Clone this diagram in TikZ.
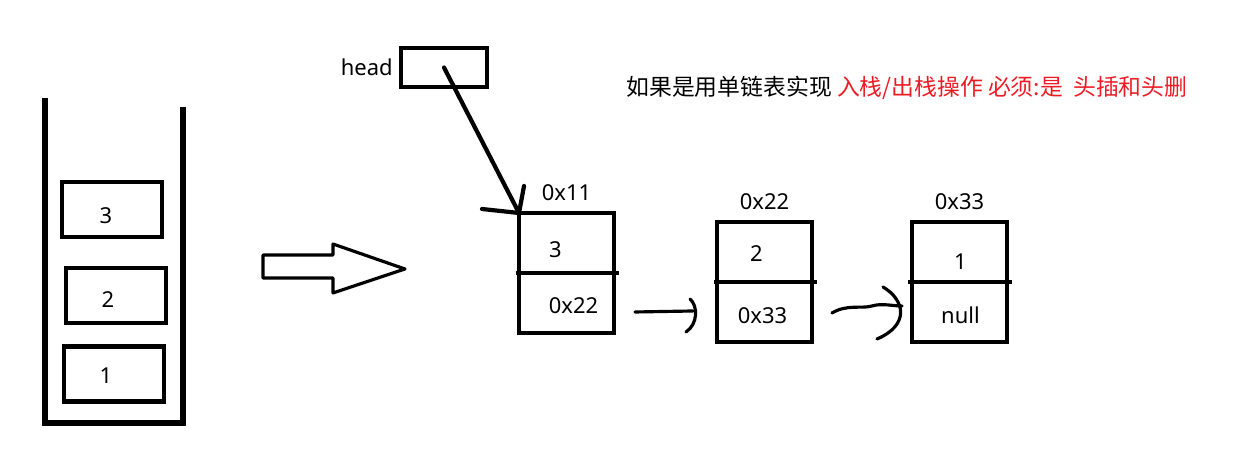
\documentclass[tikz,border=0pt]{standalone}
\usepackage{fontspec}
\setmainfont{Noto Sans}
\newfontfamily\cjkfont{Noto Sans CJK SC}
\usepackage{tikz}
\usetikzlibrary{positioning,calc}
\definecolor{notered}{HTML}{ED1C24}

\begin{document}
\begin{tikzpicture}[
    x=0.02cm, y=-0.02cm,
    font=\fontsize{12.5}{15}\selectfont,
    item/.style={draw,line width=2.4pt,minimum width=2cm,minimum height=1.1cm,inner sep=0pt},
    cell/.style={draw,line width=2.4pt,minimum width=1.9cm,minimum height=1.2cm,inner sep=0pt,outer sep=0pt},
    val/.style args={#1 at #2}{label={[shift={(#2)}]center:#1}},
    addr/.style={inner sep=1pt},
    wall/.style={line width=3pt},
    hand/.style={line width=1.8pt,line cap=round,line join=round}
]
\useasboundingbox (0,0) rectangle (1243,455);

% stack, open at the top
\draw[wall] (45,98) -- (45,423) -- (183,423) -- (183,107);
\node[item,val={3 at -6,6}] (s3) at (112,209.5) {};
\node[item,val={2 at -8,4}] (s2) at (116,295.5) {};
\node[item,val={1 at -8,2}] (s1) at (114,374) {};

% hollow arrow between the two pictures
\draw[line width=1.8pt,line join=round] (263,255) -- (333,255) -- (333,244) -- (405,269)
    -- (333,293) -- (333,278) -- (263,278) -- cycle;

% head pointer
\node[draw,line width=2.4pt,minimum width=1.72cm,minimum height=0.78cm] (hbox) at (444,67.5) {};
\node[left=0pt of hbox] (hlab) {head};

% list cells: data on top, next below
\node[cell,val={3 at -11,7}] (c11a) at (566.5,243) {};
\node[cell,below=0pt of c11a,val={0x22 at 7,3}] (c11b) {};
\node[cell,val={2 at -8,2}] (c22a) at (764.5,252) {};
\node[cell,below=0pt of c22a,val={0x33 at -2,4}] (c22b) {};
\node[cell,right=2cm of c22a,val={1 at 1,10}] (c33a) {};
\node[cell,below=0pt of c33a,val={null at 1,3}] (c33b) {};

% dividers stick out a little
\foreach \c in {c11,c22,c33}
  \draw[line width=2.4pt] ([xshift=-2pt]\c a.south west) -- ([xshift=3pt]\c a.south east);

% addresses above the cells
\node[addr,above=0.2cm of c11a] (a11) {0x11};
\node[addr,above=0.2cm of c22a] (a22) {0x22};
\node[addr,above=0.2cm of c33a] (a33) {0x33};

% head -> first cell, barbs drawn by hand
\draw[hand,line width=2.4pt] (hbox.center) -- (c11a.north west);
\draw[hand,line width=2.4pt] (c11a.north west) -- ++(-37,-4) (c11a.north west) -- ++(5,-27);

% next links
\draw[hand] ($(c11b.east)+(21,9)$) -- ($(c22b.west)+(-24,-1)$);
\draw[hand] ($(c22b.west)+(-27,-13)$) .. controls +(8,7) and +(12,-8) .. ($(c22b.west)+(-31,20)$);
\draw[hand] ($(c22b.east)+(20,1)$) .. controls +(15,-9) and +(-10,3) .. ($(c22b.east)+(60,-6)$)
    .. controls +(10,-3) and +(-10,0) .. ($(c33b.west)+(-10,-6)$);
\draw[hand] ($(c33b.west)+(-29,-25)$) .. controls +(22,13) and +(33,-14) .. ($(c33b.west)+(-35,27)$);

% note
\node[anchor=west,inner sep=0pt,font=\fontsize{13}{15}\selectfont\cjkfont] (note) at (626,88)
    {如果是用单链表实现 \textcolor{notered}{入栈/出栈操作 必须:是\ \ 头插和头删}};
\end{tikzpicture}
\end{document}
